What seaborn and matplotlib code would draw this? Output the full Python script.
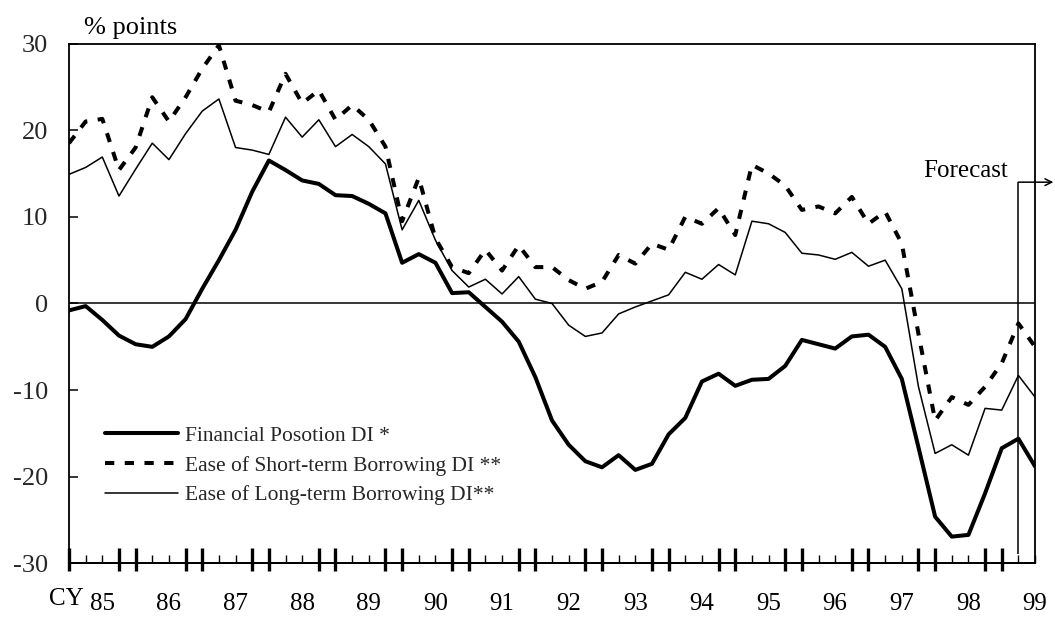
import matplotlib
matplotlib.use("Agg")
import matplotlib.pyplot as plt
import seaborn as sns
import pandas as pd
import numpy as np

# quarterly DI values, 59 quarters (index 0 .. 58)
financial_position = [-0.8, -0.3, -1.9, -3.7, -4.7, -5.0, -3.8, -1.8, 1.7, 5.0,
                      8.5, 12.9, 16.5, 15.4, 14.2, 13.8, 12.5, 12.4, 11.5, 10.4,
                      4.7, 5.7, 4.7, 1.2, 1.3, -0.4, -2.1, -4.4, -8.5, -13.5,
                      -16.3, -18.2, -18.9, -17.5, -19.2, -18.5, -15.1, -13.2, -9.0, -8.1,
                      -9.5, -8.8, -8.7, -7.2, -4.2, -4.7, -5.2, -3.8, -3.6, -5.0,
                      -8.7, -16.6, -24.6, -26.9, -26.7, -21.9, -16.7, -15.6, -18.8]
short_term = [18.5, 21.0, 21.3, 15.4, 18.0, 23.8, 21.0, 23.8, 27.1, 29.8,
              23.4, 22.9, 22.1, 26.5, 23.1, 24.6, 21.2, 22.9, 21.2, 18.1,
              9.5, 14.5, 7.5, 4.2, 3.5, 6.2, 3.8, 6.7, 4.2, 4.2,
              2.7, 1.7, 2.5, 5.6, 4.6, 6.9, 6.2, 10.0, 9.2, 11.0,
              7.9, 16.0, 15.0, 13.6, 10.8, 11.2, 10.4, 12.3, 9.2, 10.6,
              6.9, -3.5, -13.5, -10.8, -11.7, -9.6, -6.9, -2.3, -5.0]
long_term = [14.9, 15.7, 16.9, 12.4, 15.5, 18.5, 16.6, 19.6, 22.2, 23.6,
             18.0, 17.7, 17.2, 21.5, 19.2, 21.2, 18.1, 19.5, 18.1, 16.1,
             8.5, 11.9, 7.3, 3.8, 1.9, 2.8, 1.1, 3.1, 0.5, 0.0,
             -2.5, -3.8, -3.4, -1.2, -0.4, 0.3, 1.0, 3.6, 2.8, 4.5,
             3.3, 9.5, 9.2, 8.2, 5.8, 5.6, 5.1, 5.9, 4.3, 5.0,
             1.7, -9.6, -17.3, -16.3, -17.5, -12.1, -12.3, -8.3, -10.8]

year_labels = ["85", "86", "87", "88", "89", "90", "91", "92",
               "93", "94", "95", "96", "97", "98", "99"]
forecast_idx = 57

quarter = np.arange(len(financial_position))
df = pd.DataFrame({"q": quarter,
                   "fin": financial_position,
                   "short": short_term,
                   "long": long_term})

sns.set_theme(style="white")
plt.rcParams["font.family"] = ["Liberation Serif", "DejaVu Serif"]
plt.rcParams["axes.unicode_minus"] = False

fig = plt.figure(figsize=(10.55, 6.18), dpi=100)
ax = fig.add_axes([0.0654, 0.0882, 0.9157, 0.8414])

sns.lineplot(data=df, x="q", y="fin", ax=ax, color="black", linewidth=2.9,
             label="Financial Posotion DI *")
sns.lineplot(data=df, x="q", y="short", ax=ax, color="black", linewidth=2.9,
             dashes=False, label="Ease of Short-term Borrowing DI **")
ax.lines[-1].set_dashes((2.3, 2.6))
ax.lines[-1].set_dash_capstyle("butt")
sns.lineplot(data=df, x="q", y="long", ax=ax, color="black", linewidth=1.1,
             label="Ease of Long-term Borrowing DI**")

ax.axhline(0, color="black", linewidth=1.1)

ax.set_xlim(0, 58)
ax.set_ylim(-30, 30)
ax.set_xlabel("")
ax.set_ylabel("")

for s in ax.spines.values():
    s.set_color("black")
    s.set_linewidth(1.3)

# y axis
ax.set_yticks(np.arange(-30, 31, 10))
ax.tick_params(axis="y", direction="in", length=6.5, width=1.1, color="black",
               labelsize=19, pad=15, left=True, right=False)

# x axis: quarter ticks, heavy marks round each year boundary
big = [i for i in quarter if i % 4 in (0, 3)]
small = [i for i in quarter if i % 4 in (1, 2)]
ax.set_xticks(big)
ax.set_xticks(small, minor=True)
ax.tick_params(axis="x", which="major", direction="in", length=10.8, width=2.4,
               color="black", labelbottom=False, bottom=True)
ax.tick_params(axis="x", which="minor", direction="in", length=5.8, width=1.0,
               color="black", bottom=True)
secax = ax.secondary_xaxis("bottom")
secax.set_xticks(big)
secax.tick_params(axis="x", direction="out", length=5.5, width=2.4,
                  color="black", labelbottom=False)
secax.spines["bottom"].set_linewidth(1.3)
secax.spines["bottom"].set_color("black")

for k, lab in enumerate(year_labels):
    ax.text(4 * k + 2, -0.077, lab, transform=ax.get_xaxis_transform(),
            ha="center", va="center", fontsize=18, color="black", clip_on=False)
ax.text(0.9, -0.068, "CY", transform=ax.get_xaxis_transform(),
        ha="right", va="center", fontsize=18, color="black")

fig.text(84 / 1055, 1 - 34 / 618, "% points", fontsize=19, va="baseline",
         color="black")

# forecast marker
ax.vlines(forecast_idx, -28.9, 14.0, color="black", linewidth=1.1)
ax.annotate("", xy=(forecast_idx + 2.1, 14.0), xytext=(forecast_idx, 14.0),
            arrowprops=dict(arrowstyle="->", lw=1.1, color="black",
                            shrinkA=0, shrinkB=0),
            annotation_clip=False)
ax.text(56.4, 14.6, "Forecast", ha="right", va="baseline", fontsize=18,
        color="black")

leg = ax.legend(loc="center left", bbox_to_anchor=(105 / 1055, 1 - 465.5 / 618),
                bbox_transform=fig.transFigure, frameon=False, fontsize=15.5,
                handlelength=3.4, handletextpad=0.3, labelspacing=0.45,
                borderpad=0, borderaxespad=0)

fig.savefig("out.png", dpi=100, facecolor="white")
